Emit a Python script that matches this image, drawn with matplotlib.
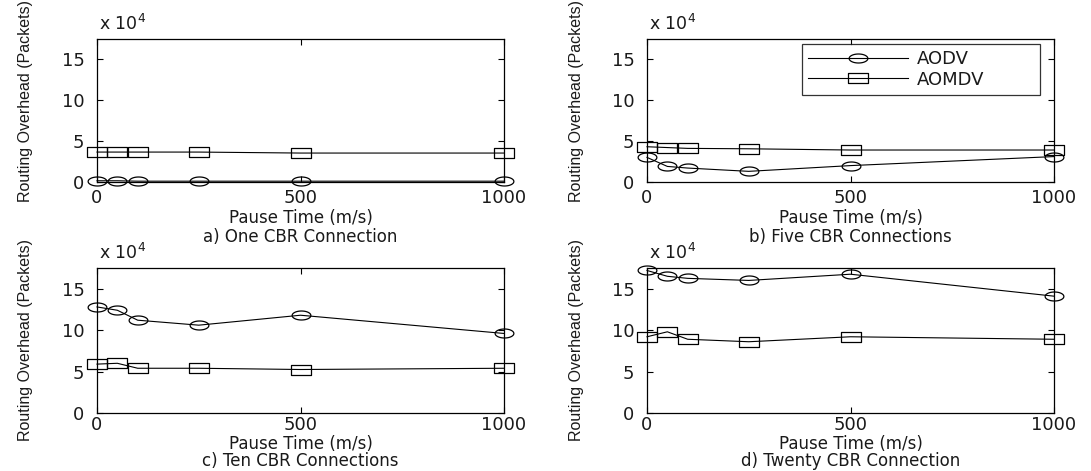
import matplotlib
matplotlib.use("Agg")
import matplotlib.pyplot as plt
from matplotlib.path import Path
import numpy as np

pause_time = [0, 50, 100, 250, 500, 1000]
x_ticks = [0, 500, 1000]
y_ticks = [0, 5, 10, 15]

# values in units of 10^4 packets
aodv_1 = [0.15, 0.15, 0.1, 0.1, 0.1, 0.1]
aomdv_1 = [3.65, 3.65, 3.65, 3.65, 3.53, 3.53]
aodv_5 = [3.0, 1.9, 1.7, 1.3, 2.0, 3.1]
aomdv_5 = [4.3, 4.2, 4.1, 4.05, 3.9, 3.9]
aodv_10 = [12.8, 12.4, 11.2, 10.6, 11.8, 9.6]
aomdv_10 = [5.9, 6.0, 5.4, 5.4, 5.25, 5.4]
aodv_20 = [17.2, 16.5, 16.25, 16.0, 16.75, 14.1]
aomdv_20 = [9.2, 9.8, 8.9, 8.6, 9.2, 8.9]

series_names = ["AODV", "AOMDV"]
x_label = "Pause Time (m/s)"
y_label = "Routing Overhead (Packets)"
captions = ["a) One CBR Connection", "b) Five CBR Connections",
            "c) Ten CBR Connections", "d) Twenty CBR Connection"]
series = [(aodv_1, aomdv_1), (aodv_5, aomdv_5), (aodv_10, aomdv_10), (aodv_20, aomdv_20)]

W, H = 1091, 471
fig = plt.figure(figsize=(W / 100, H / 100), dpi=100)
fig.patch.set_facecolor("white")

# horizontally stretched markers (the reference image is stretched)
t = np.linspace(0, 2 * np.pi, 41)
ellipse = Path(np.column_stack([np.cos(t), 0.48 * np.sin(t)]), closed=True)
rect = Path([(-1, -0.5), (1, -0.5), (1, 0.5), (-1, 0.5), (-1, -0.5)], closed=True)

# axes boxes in pixels: left, top, right, bottom
cols = [(97, 504), (647, 1054)]
rows = [(38.5, 182), (268, 413)]
tick_pad = [5, 2.5]
xlab_y = [218, 444]
cap_y = [237, 461]
ylab_y = [101, 340]
mult_y = [29.5, 259]

TXT = "#1a1a1a"

def fx(px):
    return px / W

def fy(py):
    return 1 - py / H

for i, (cap, (a, m)) in enumerate(zip(captions, series)):
    r_i, c_i = divmod(i, 2)
    l, r = cols[c_i]
    t_, b = rows[r_i]
    ax = fig.add_axes([fx(l), fy(b), (r - l) / W, (b - t_) / H])
    ax.plot(pause_time, a, color="black", lw=0.8, marker=ellipse, ms=13.5,
            mfc="none", mec="black", mew=0.9, clip_on=False, label=series_names[0])
    ax.plot(pause_time, m, color="black", lw=0.8, marker=rect, ms=14,
            mfc="none", mec="black", mew=0.9, clip_on=False, label=series_names[1])
    ax.set_xlim(0, 1000)
    ax.set_ylim(0, 17.5)
    ax.set_xticks(x_ticks)
    ax.set_yticks(y_ticks)
    ax.tick_params(axis="both", direction="in", top=True, right=True, length=4,
                   labelsize=13, width=0.8, labelcolor=TXT)
    ax.tick_params(axis="x", pad=tick_pad[r_i])
    ax.tick_params(axis="y", pad=9)
    for s in ax.spines.values():
        s.set_linewidth(0.9)
    fig.text(fx((l + r) / 2), fy(xlab_y[r_i]), x_label, fontsize=12,
             ha="center", va="center", color=TXT)
    fig.text(fx((l + r) / 2), fy(cap_y[r_i]), cap, fontsize=12,
             ha="center", va="center", color=TXT)
    fig.text(fx(l - 71), fy(ylab_y[r_i]), y_label, fontsize=11.5,
             family=["Liberation Sans Narrow", "Liberation Sans", "DejaVu Sans"],
             rotation=90, ha="center", va="center", color=TXT)
    fig.text(fx(l + 2), fy(mult_y[r_i]), r"x 10$^{4}$", fontsize=12.5,
             ha="left", va="baseline", color=TXT)
    if i == 1:
        leg = ax.legend(loc="upper left", mode="expand",
                        bbox_to_anchor=(fx(802), fy(95), 238 / W, 51 / H),
                        bbox_transform=fig.transFigure, borderaxespad=0,
                        fontsize=13, frameon=True, fancybox=False,
                        edgecolor="black", handlelength=5.5, handletextpad=0.5,
                        borderpad=0.35, labelspacing=0.13)
        leg.get_frame().set_linewidth(0.9)
        for txt in leg.get_texts():
            txt.set_color(TXT)

fig.savefig("out.png", dpi=100, facecolor="white")
